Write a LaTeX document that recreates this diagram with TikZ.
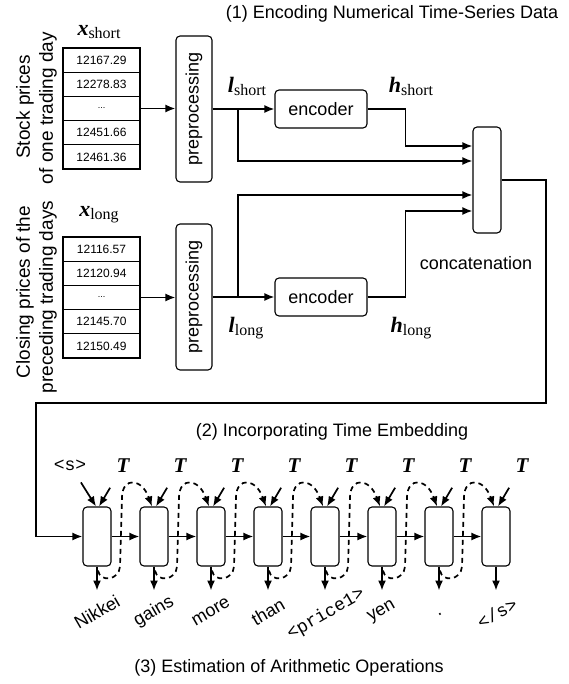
\documentclass[tikz,border=0pt]{standalone}
\usepackage{fontspec}
\setmainfont{Liberation Sans}
\setmonofont{Liberation Mono}
\newfontfamily\tms{Liberation Serif}
\usetikzlibrary{arrows.meta,calc}
\newcommand{\mylab}[2]{{\tms\fontsize{22}{24}\selectfont\textbf{\textit{#1}}\raisebox{-3pt}{\fontsize{16}{18}\selectfont #2}}}
\begin{document}
\begin{tikzpicture}[x=1pt,y=-1pt,
  lbl/.style={font=\fontsize{18}{20}\selectfont, inner sep=0},
  side/.style={font=\fontsize{19}{21}\selectfont, inner sep=0, rotate=90},
  word/.style={font=\fontsize{18}{20}\selectfont, inner sep=0, rotate=30},
  mlab/.style={inner sep=0},
  tlab/.style={font=\tms\bfseries\itshape\fontsize{21}{22}\selectfont, inner sep=0},
  cellbox/.style={draw, line width=1.1pt, minimum width=77pt, minimum height=24.2pt, inner sep=0, font=\fontsize{12}{14}\selectfont},
  rbox/.style={draw, line width=1.1pt, rounded corners=4pt, inner sep=0},
  arr/.style={line width=1.7pt, -{Latex[length=10pt,width=8pt]}},
  darr/.style={line width=1.7pt, dash pattern=on 5pt off 4pt, -{Latex[length=10pt,width=8pt]}},
]
\useasboundingbox (0,0) rectangle (569,684);

% titles
\node[lbl] (title1) at (392,14) {(1) Encoding Numerical Time-Series Data};
\node[lbl] (title2) at (332,432) {(2) Incorporating Time Embedding};
\node[lbl] (title3) at (289,668) {(3) Estimation of Arithmetic Operations};

% side labels
\node[side] (sl1) at (25,107) {Stock prices};
\node[side] (sl2) at (48,108) {of one trading day};
\node[side] (sl3) at (25,292) {Closing prices of the};
\node[side] (sl4) at (48,297) {preceding trading days};

% math labels
\node[mlab] (xs) at (99,32) {\mylab{x}{short}};
\node[mlab] (xl) at (99,215) {\mylab{x}{long}};
\node[mlab] (ls) at (247,86) {\mylab{l}{short}};
\node[mlab] (ll) at (246,328) {\mylab{l}{long}};
\node[mlab] (hs) at (411,86) {\mylab{h}{short}};
\node[mlab] (hl) at (411,328) {\mylab{h}{long}};

% short table
\node[cellbox] (ts1) at (101.5,60.1) {12167.29};
\node[cellbox] (ts2) at (101.5,84.3) {12278.83};
\node[cellbox] (ts3) at (101.5,108.5) {\fontsize{9}{10}\selectfont ...};
\node[cellbox] (ts4) at (101.5,132.7) {12451.66};
\node[cellbox] (ts5) at (101.5,156.9) {12461.36};
% long table
\node[cellbox] (tl1) at (101.5,249.1) {12116.57};
\node[cellbox] (tl2) at (101.5,273.3) {12120.94};
\node[cellbox] (tl3) at (101.5,297.5) {\fontsize{9}{10}\selectfont ...};
\node[cellbox] (tl4) at (101.5,321.7) {12145.70};
\node[cellbox] (tl5) at (101.5,345.9) {12150.49};

% preprocessing
\node[rbox, minimum width=36pt, minimum height=146pt] (p1) at (194,109) {};
\node[lbl, rotate=90] (p1t) at (p1) {preprocessing};
\node[rbox, minimum width=36pt, minimum height=146pt] (p2) at (194,297) {};
\node[lbl, rotate=90] (p2t) at (p2) {preprocessing};

% encoders
\node[rbox, lbl, minimum width=92pt, minimum height=38pt] (e1) at (321,109) {encoder};
\node[rbox, lbl, minimum width=92pt, minimum height=38pt] (e2) at (321,297) {encoder};

% concatenation
\node[rbox, minimum width=28pt, minimum height=106pt] (cc) at (487,180) {};
\node[lbl] (cct) at (476,263) {concatenation};

% top connectors
\draw[arr] (ts3.east) -- (ts3.east -| p1.west);
\draw[arr] (tl3.east) -- (tl3.east -| p2.west);
\draw[arr] (p1.east) -- (e1.west);
\draw[arr] (p2.east) -- (e2.west);
\coordinate (bs) at (238,109);
\coordinate (bl) at (238,297);
\draw[arr] (bs) |- ($(cc.west)+(0,-19)$);
\draw[arr] (bl) |- ($(cc.west)+(0,15)$);
\draw[arr] (e1.east) -- ++(38,0) |- ($(cc.west)+(0,-34)$);
\draw[arr] (e2.east) -- ++(38,0) |- ($(cc.west)+(0,31)$);

% bottom cells
\foreach \i in {1,...,8}{
  \node[rbox, minimum width=28pt, minimum height=59pt] (c\i) at ({97+57*(\i-1)},536.5) {};
  \node[tlab] (t\i) at ({123+57*(\i-1)},466) {T};
  \draw[arr, shorten <=17pt] (t\i) -- ($(c\i.north)+(2,0)$);
  \draw[arr] (c\i.south) -- ++(0,24);
}
\node[font=\ttfamily\fontsize{18}{20}\selectfont, inner sep=0] (s) at (70,465) {<s>};
\draw[arr, shorten <=14pt] (s) -- ($(c1.north)+(-1,0)$);

\foreach \i in {1,...,7}{
  \pgfmathtruncatemacro\j{\i+1}
  \draw[arr] (c\i.east) -- (c\j.west);
  \draw[darr] ($(c\i.south)+(1,4)$) .. controls +(2,12) and +(-1,14) .. ($(c\i.south)+(23,0)$)
     -- ($(c\i.north)+(25,-10)$) .. controls +(1,-20) and +(-10,-28) .. ($(c\j.north)+(-2,0)$);
}

% feed from concatenation
\coordinate (k1) at (546,403);
\coordinate (k2) at (36,403);
\draw[arr] (cc.east) -| (k1) -- (k2) |- (c1.west);

% words
\node[word] (w1) at (97,612) {Nikkei};
\node[word] (w2) at (154,612) {gains};
\node[word] (w3) at (211,612) {more};
\node[word] (w4) at (268,612) {than};
\node[word, font=\ttfamily\fontsize{18}{20}\selectfont] (w5) at (326,614) {<price1>};
\node[word] (w6) at (382,612) {yen};
\node[word] (w7) at (440,614) {.};
\node[word, font=\ttfamily\fontsize{18}{20}\selectfont] (w8) at (497,613) {</s>};
\end{tikzpicture}
\end{document}
